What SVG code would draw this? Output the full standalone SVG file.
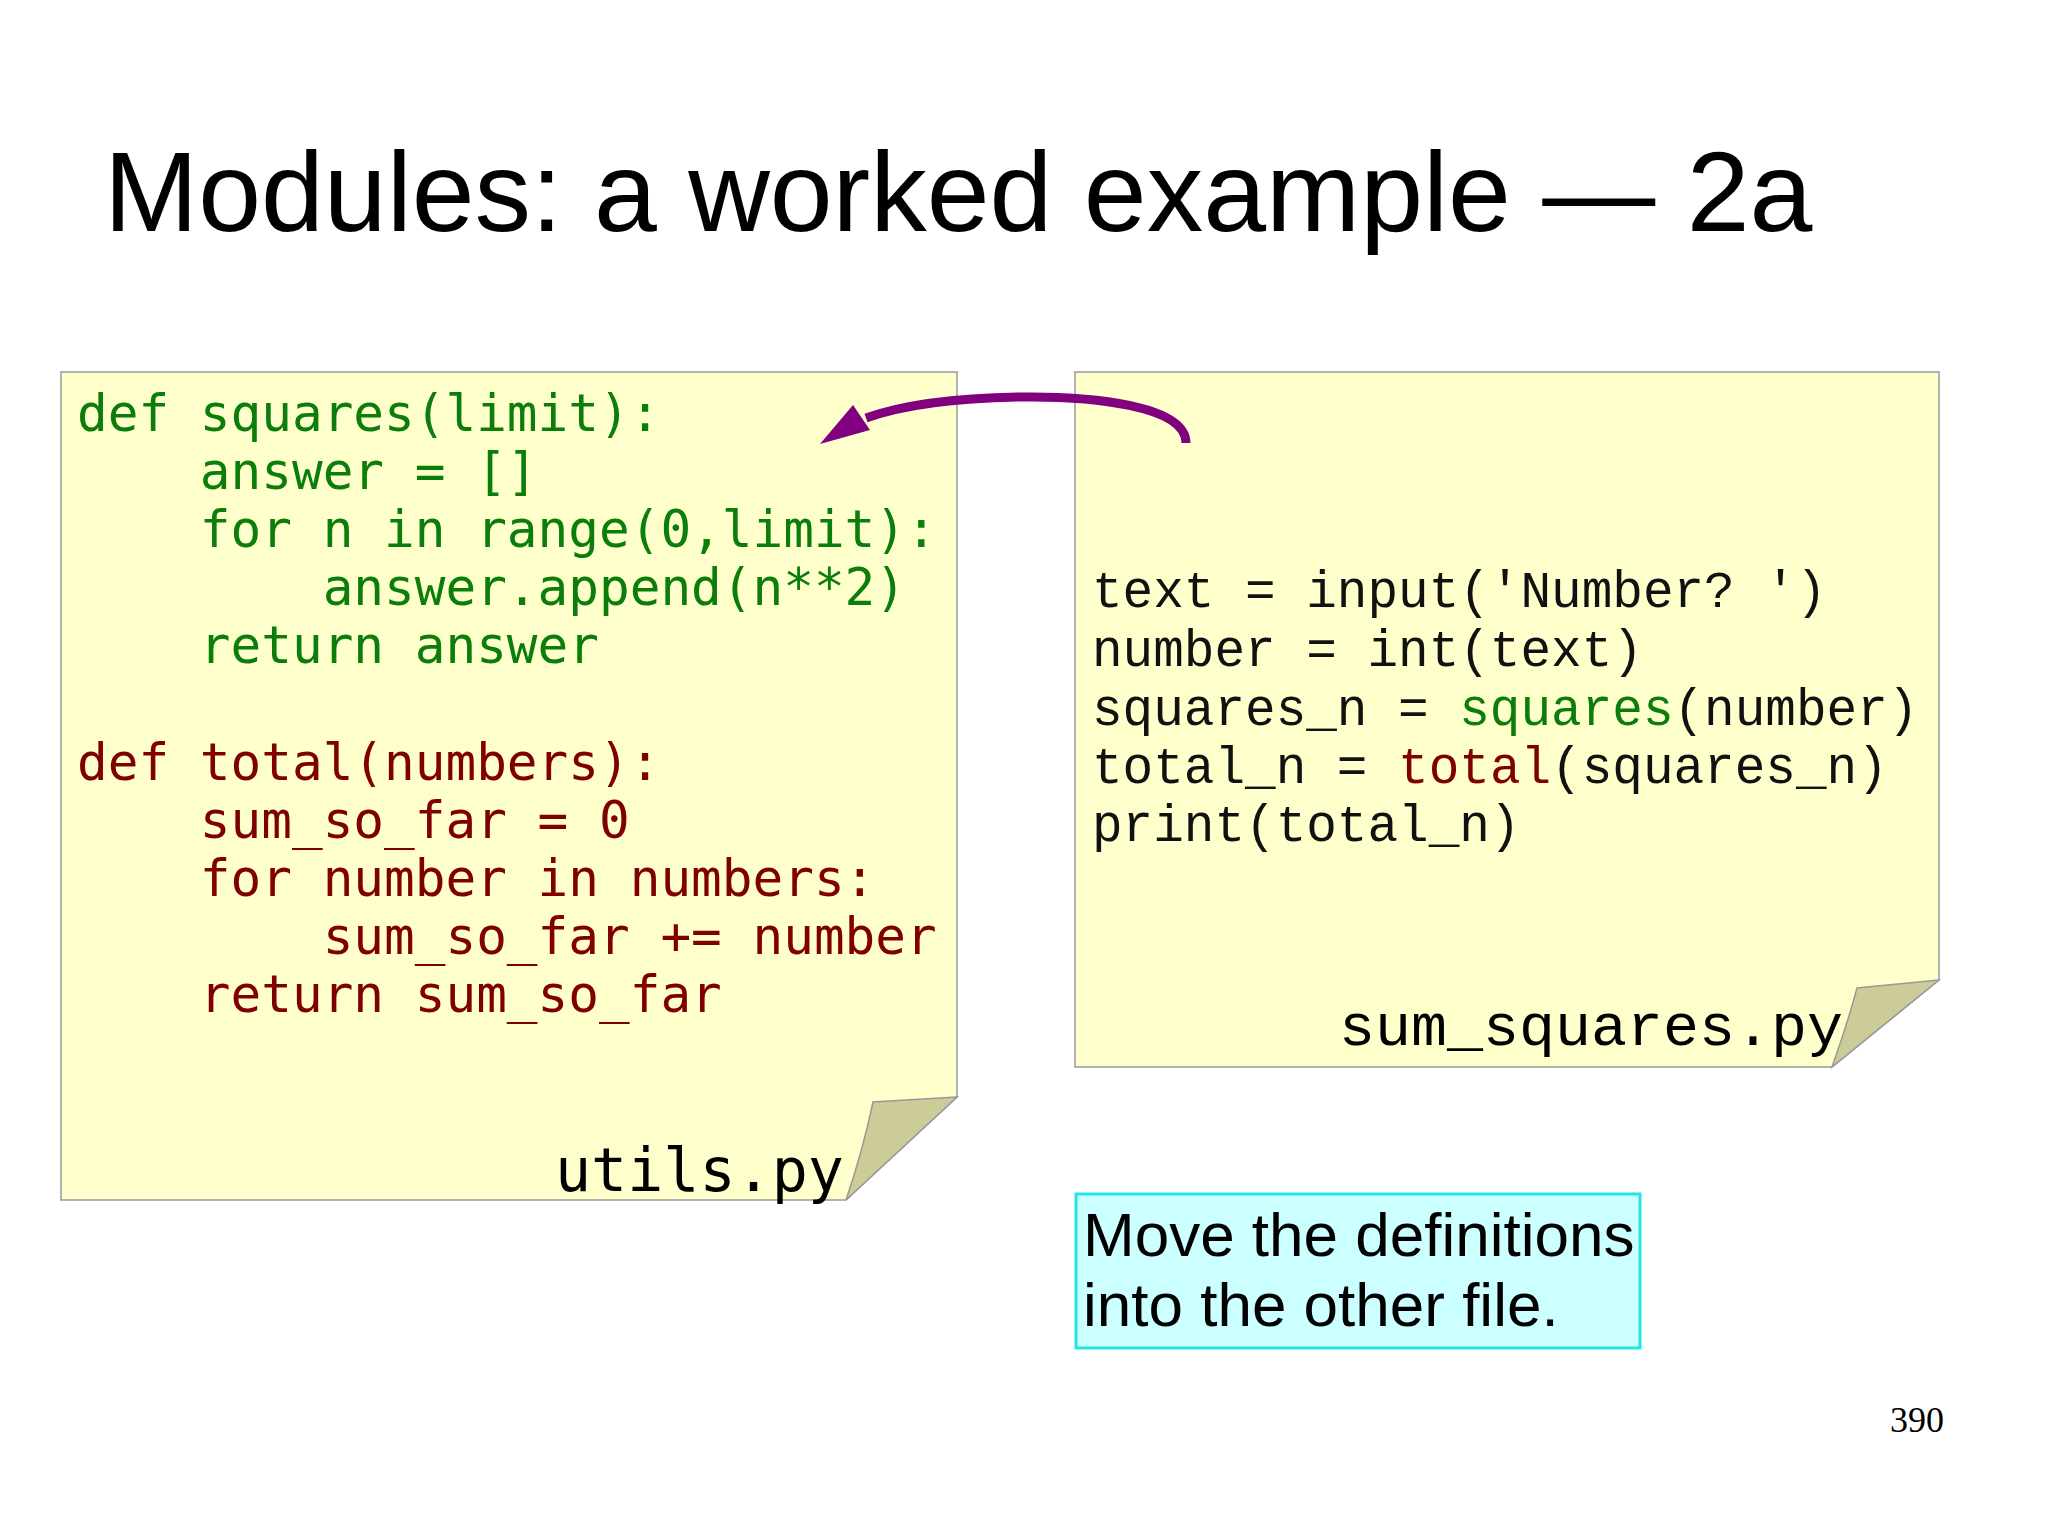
<svg xmlns="http://www.w3.org/2000/svg" width="2048" height="1535" viewBox="0 0 2048 1535">
<style>
.code{font-family:"DejaVu Sans Mono",monospace;font-size:51px}
.g{fill:#0a7d0a}.r{fill:#7f0000}.k{fill:#111}
.note{fill:#ffffcc;stroke:#999;stroke-width:1.5}
.fold{fill:#cccc99;stroke:#999;stroke-width:1.5}
.fname{font-family:"DejaVu Sans Mono",monospace;font-size:60px;fill:#000}
.mono{font-family:"Liberation Mono",monospace}
</style>
<rect width="2048" height="1535" fill="#fff"/>
<text x="104" y="231" font-family="Liberation Sans, sans-serif" font-size="113" fill="#000">Modules: a worked example — 2a</text>
<g id="utils">
<path class="note" d="M61,372 H957 V1097 L846,1200 H61 Z"/>
<path class="fold" d="M957,1097 L873,1102 Q863,1150 846,1200 Z"/>
<g class="code">
<text class="g" x="77" y="431">def squares(limit):</text>
<text class="g" x="77" y="489" xml:space="preserve">    answer = []</text>
<text class="g" x="77" y="547" xml:space="preserve">    for n in range(0,limit):</text>
<text class="g" x="77" y="605" xml:space="preserve">        answer.append(n**2)</text>
<text class="g" x="77" y="663" xml:space="preserve">    return answer</text>
<text class="r" x="77" y="780">def total(numbers):</text>
<text class="r" x="77" y="838" xml:space="preserve">    sum_so_far = 0</text>
<text class="r" x="77" y="896" xml:space="preserve">    for number in numbers:</text>
<text class="r" x="77" y="954" xml:space="preserve">        sum_so_far += number</text>
<text class="r" x="77" y="1012" xml:space="preserve">    return sum_so_far</text>
</g>
<text class="fname" x="555" y="1191">utils.py</text>
</g>
<g id="sum_squares">
<path class="note" d="M1075,372 H1939 V980 L1832,1067 H1075 Z"/>
<path class="fold" d="M1939,980 L1857,988 Q1847,1025 1832,1067 Z"/>
<g class="code">
<text class="k mono" x="1092" y="607">text = input('Number? ')</text>
<text class="k mono" x="1092" y="666">number = int(text)</text>
<text class="k mono" x="1092" y="725" xml:space="preserve">squares_n = <tspan class="g">squares</tspan>(number)</text>
<text class="k mono" x="1092" y="783" xml:space="preserve">total_n = <tspan class="r">total</tspan>(squares_n)</text>
<text class="k mono" x="1092" y="841">print(total_n)</text>
</g>
<text class="fname mono" x="1339" y="1045">sum_squares.py</text>
</g>
<g id="connectors">
<path d="M1186,443 C1186,405 1090,396 1020,397 C950,398 900,406 866,418" fill="none" stroke="#800080" stroke-width="9"/>
<polygon points="820,444 853,405 870,430" fill="#800080"/>
</g>
<g id="callout">
<rect x="1076" y="1194" width="564" height="154" fill="#ccffff" stroke="#22e5e5" stroke-width="3"/>
<text x="1083" y="1256" font-family="Liberation Sans, sans-serif" font-size="62" fill="#000">Move the definitions</text>
<text x="1083" y="1326" font-family="Liberation Sans, sans-serif" font-size="62" fill="#000">into the other file.</text>
</g>
<text x="1890" y="1432" font-family="Liberation Serif, serif" font-size="36" fill="#000">390</text>
</svg>
